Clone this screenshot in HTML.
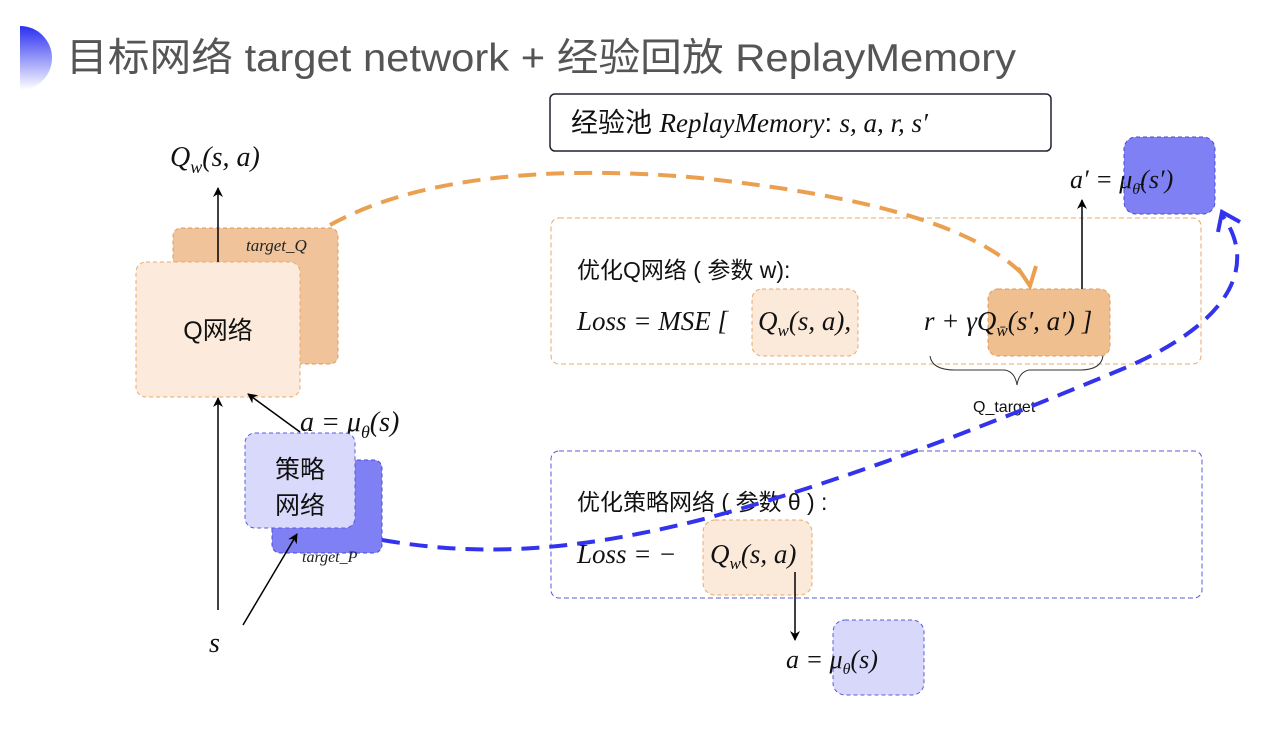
<!DOCTYPE html>
<html><head><meta charset="utf-8"><style>
html,body{margin:0;padding:0;background:#fff;width:1282px;height:739px;overflow:hidden}
svg{display:block}
.cj{font-family:"Liberation Sans","Noto Sans CJK SC",sans-serif}
.m{font-family:"Liberation Serif","DejaVu Serif",serif;font-style:italic}
</style></head><body>
<svg width="1282" height="739" viewBox="0 0 1282 739" xmlns="http://www.w3.org/2000/svg">
<defs>
<linearGradient id="g" x1="0" y1="0" x2="0" y2="1"><stop offset="0" stop-color="#2a2ff0"/><stop offset="1" stop-color="#ffffff"/></linearGradient>
<marker id="ab" markerWidth="10" markerHeight="10" refX="9" refY="5" orient="auto" markerUnits="userSpaceOnUse"><path d="M0,0 L10,5 L0,10 L3,5 z" fill="#000"/></marker>
</defs>
<path d="M20,26 A32,32 0 0 1 20,90 Z" fill="url(#g)"/>
<text x="66" y="71" class="cj" font-size="39" fill="#555" textLength="950" lengthAdjust="spacingAndGlyphs">目标网络 target network + 经验回放 ReplayMemory</text>

<!-- replay box -->
<rect x="550" y="94" width="501" height="57" rx="5" fill="#fff" stroke="#223" stroke-width="1.5"/>
<text x="571" y="132" font-size="27" fill="#111"><tspan class="cj">经验池 </tspan><tspan class="m">ReplayMemory</tspan><tspan class="cj">:  </tspan><tspan class="m">s, a, r, s′</tspan></text>

<!-- a' box -->
<rect x="1124" y="137" width="91" height="77" rx="12" fill="#8080f5" stroke="#4a4ad8" stroke-dasharray="4 3"/>
<text x="1070" y="188" class="m" font-size="26" fill="#111">a′ = μ<tspan font-size="16" dy="6">θ̄</tspan><tspan dy="-6">(s′)</tspan></text>

<!-- orange outer -->
<rect x="551" y="218" width="650" height="146" rx="8" fill="none" stroke="#eaa86a" stroke-dasharray="5 3"/>
<text x="577" y="278" class="cj" font-size="23" fill="#111">优化Q网络 ( 参数 w):</text>
<rect x="752" y="289" width="106" height="67" rx="10" fill="#fbe9da" stroke="#eaa86a" stroke-dasharray="4 3"/>
<rect x="988" y="289" width="122" height="67" rx="10" fill="#efbf90" stroke="#e09a55" stroke-dasharray="4 3"/>
<text x="577" y="330" class="m" font-size="27" fill="#111">Loss = MSE [</text>
<text x="758" y="330" class="m" font-size="27" fill="#111">Q<tspan font-size="17" dy="6">w</tspan><tspan dy="-6">(s, a),</tspan></text>
<text x="924" y="330" class="m" font-size="27" fill="#111">r + γQ<tspan font-size="17" dy="6">w̄</tspan><tspan dy="-6">(s′, a′) ]</tspan></text>
<path d="M930,356 Q932,370 955,370 L1005,370 Q1015,372 1017,385 Q1019,372 1029,370 L1080,370 Q1101,370 1103,356" fill="none" stroke="#333" stroke-width="1"/>
<text x="973" y="412" class="cj" font-size="16" fill="#111">Q_target</text>
<line x1="1082" y1="289" x2="1082" y2="200" stroke="#000" stroke-width="1.5" marker-end="url(#ab)"/>

<!-- blue outer -->
<rect x="551" y="451" width="651" height="147" rx="8" fill="none" stroke="#5a5ae0" stroke-dasharray="5 3"/>
<text x="577" y="510" class="cj" font-size="23" fill="#111">优化策略网络 ( 参数 θ ) :</text>
<rect x="703" y="520" width="109" height="75" rx="12" fill="#fbe9da" stroke="#eaa86a" stroke-dasharray="4 3"/>
<text x="577" y="563" class="m" font-size="27" fill="#111">Loss = − </text>
<text x="710" y="563" class="m" font-size="27" fill="#111">Q<tspan font-size="17" dy="6">w</tspan><tspan dy="-6">(s, a)</tspan></text>
<line x1="795" y1="572" x2="795" y2="640" stroke="#000" stroke-width="1.5" marker-end="url(#ab)"/>
<rect x="833" y="620" width="91" height="75" rx="12" fill="#d8d8fb" stroke="#5a5ae0" stroke-dasharray="4 3"/>
<text x="786" y="668" class="m" font-size="26" fill="#111">a = μ<tspan font-size="16" dy="6">θ</tspan><tspan dy="-6">(s)</tspan></text>

<!-- left -->
<rect x="173" y="228" width="165" height="136" rx="8" fill="#f0c39a" stroke="#e09a55" stroke-dasharray="4 3"/>
<text x="246" y="251" class="m" font-size="17" fill="#222">target_Q</text>
<rect x="136" y="262" width="164" height="135" rx="10" fill="#fcebdc" stroke="#eaa86a" stroke-dasharray="4 3"/>
<text x="218" y="339" class="cj" font-size="25" fill="#111" text-anchor="middle">Q网络</text>
<line x1="218" y1="262" x2="218" y2="188" stroke="#000" stroke-width="1.5" marker-end="url(#ab)"/>
<text x="170" y="166" class="m" font-size="28" fill="#111">Q<tspan font-size="18" dy="7">w</tspan><tspan dy="-7">(s, a)</tspan></text>
<line x1="218" y1="610" x2="218" y2="398" stroke="#000" stroke-width="1.5" marker-end="url(#ab)"/>
<line x1="300" y1="432" x2="248" y2="394" stroke="#000" stroke-width="1.5" marker-end="url(#ab)"/>
<text x="300" y="431" class="m" font-size="28" fill="#111">a = μ<tspan font-size="18" dy="7">θ</tspan><tspan dy="-7">(s)</tspan></text>
<rect x="272" y="460" width="110" height="93" rx="8" fill="#8080f5" stroke="#4a4ad8" stroke-dasharray="4 3"/>
<text x="302" y="562" class="m" font-size="16" fill="#222">target_P</text>
<rect x="245" y="433" width="110" height="95" rx="10" fill="#d9d9fb" stroke="#5a5ae0" stroke-dasharray="4 3"/>
<text x="300" y="478" class="cj" font-size="25" fill="#111" text-anchor="middle">策略</text>
<text x="300" y="514" class="cj" font-size="25" fill="#111" text-anchor="middle">网络</text>
<line x1="243" y1="625" x2="297" y2="534" stroke="#000" stroke-width="1.5" marker-end="url(#ab)"/>
<text x="209" y="652" class="m" font-size="28" fill="#111">s</text>

<!-- curves -->
<path d="M330,225 C420,175 560,165 700,178 C860,195 980,225 1028,280" fill="none" stroke="#eaa050" stroke-width="4" stroke-dasharray="18 10"/>
<path d="M1018,268 L1030,286 L1036,266" fill="none" stroke="#eaa050" stroke-width="4"/>
<path d="M382,540 C470,555 560,555 700,520 C850,480 1000,420 1120,370 C1240,320 1255,260 1222,215" fill="none" stroke="#3333ee" stroke-width="4" stroke-dasharray="18 10"/>
<path d="M1218,232 L1222,212 L1240,222" fill="none" stroke="#3333ee" stroke-width="4"/>
</svg>
</body></html>
